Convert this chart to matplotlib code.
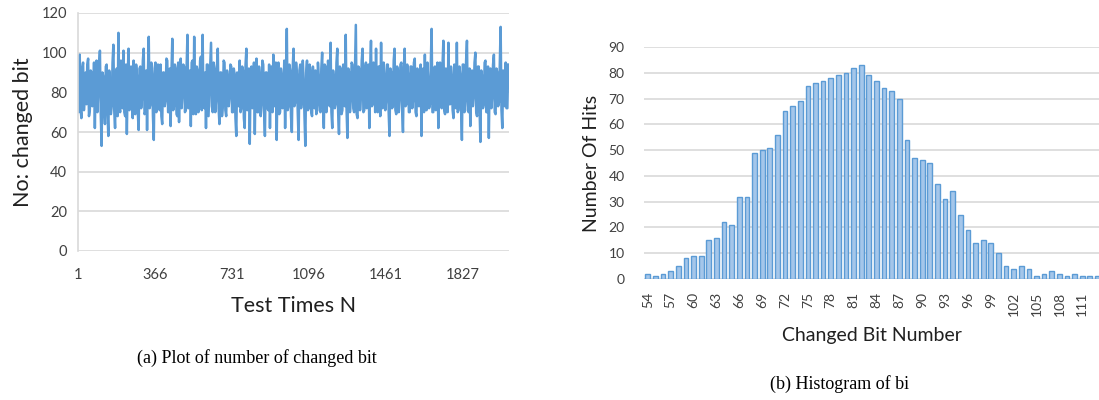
import matplotlib
matplotlib.use('Agg')
import matplotlib.pyplot as plt
import numpy as np

# (a) number of changed bits per test, read off roughly (one value every 4 tests)
changed_bits = [
    93, 70, 99, 72, 67, 92, 95, 71, 78, 90, 74, 94, 97, 68, 71, 91, 90, 73, 76, 95, 62, 89, 96, 70, 80, 93, 101, 69, 53, 90, 88, 72,
    64, 93, 94, 70, 58, 91, 86, 69, 73, 95, 104, 71, 62, 90, 92, 68, 110, 74, 70, 96, 84, 72, 101, 70, 68, 94, 59, 88, 102, 71, 75, 93,
    91, 67, 96, 73, 69, 94, 88, 70, 61, 92, 93, 72, 77, 96, 102, 69, 70, 91, 61, 89, 108, 72, 74, 95, 89, 68, 56, 92, 95, 70, 72, 94,
    85, 71, 94, 68, 64, 90, 90, 73, 76, 97, 96, 70, 70, 92, 63, 90, 107, 71, 73, 94, 92, 69, 68, 95, 65, 88, 97, 72, 79, 94, 93, 70,
    71, 93, 109, 72, 74, 91, 63, 95, 96, 69, 108, 74, 69, 93, 91, 70, 75, 96, 98, 71, 109, 73, 72, 90, 62, 94, 94, 68, 80, 92, 105, 73,
    70, 95, 92, 70, 76, 93, 102, 72, 64, 90, 90, 68, 73, 96, 95, 71, 68, 91, 87, 73, 78, 94, 93, 70, 70, 92, 89, 67, 58, 90, 84, 73,
    96, 70, 72, 93, 91, 67, 62, 94, 102, 71, 75, 92, 54, 89, 93, 72, 79, 95, 59, 91, 97, 70, 70, 93, 88, 68, 74, 96, 94, 71, 58, 90,
    90, 72, 71, 94, 62, 91, 93, 70, 99, 73, 76, 95, 56, 90, 95, 69, 70, 92, 88, 72, 78, 96, 62, 90, 112, 71, 73, 94, 91, 68, 60, 92,
    102, 73, 75, 95, 89, 70, 56, 91, 94, 72, 77, 96, 86, 68, 53, 90, 96, 71, 72, 94, 90, 70, 68, 93, 84, 72, 91, 69, 74, 95, 88, 71,
    70, 92, 100, 72, 62, 94, 93, 70, 77, 96, 89, 73, 105, 70, 62, 91, 86, 72, 74, 95, 102, 70, 59, 93, 92, 69, 71, 94, 88, 73, 109, 71,
    57, 92, 90, 70, 76, 95, 94, 72, 70, 92, 114, 69, 67, 93, 92, 71, 78, 96, 102, 70, 71, 92, 95, 72, 80, 94, 62, 91, 106, 73, 74, 95,
    89, 70, 102, 72, 70, 93, 93, 68, 105, 73, 72, 95, 88, 71, 76, 94, 94, 70, 58, 92, 90, 72, 73, 96, 102, 71, 69, 93, 91, 70, 77, 94,
    95, 71, 60, 92, 102, 73, 74, 94, 89, 70, 70, 93, 93, 72, 76, 95, 97, 70, 68, 92, 90, 73, 75, 94, 58, 91, 92, 70, 99, 73, 71, 95,
    86, 72, 74, 94, 112, 70, 70, 92, 93, 71, 78, 95, 62, 90, 95, 73, 72, 94, 106, 71, 69, 92, 90, 70, 105, 74, 74, 93, 88, 71, 67, 94,
    92, 72, 105, 70, 71, 93, 89, 72, 56, 94, 94, 70, 76, 96, 106, 71, 70, 92, 63, 90, 91, 73, 78, 95, 100, 70, 68, 93, 93, 71, 55, 91,
    88, 72, 74, 95, 96, 70, 70, 93, 57, 91, 92, 72, 78, 94, 99, 70, 69, 92, 90, 73, 75, 95, 113, 71, 62, 91, 88, 73, 95, 72, 72, 94,
]
test_step = 4
x_ticks = [1, 366, 731, 1096, 1461, 1827]

# (b) histogram of changed bit number
bit_numbers = list(range(54, 114))
hits = [2, 1, 2, 3, 5, 8, 9, 9, 15, 16, 22, 21, 32, 32, 49, 50, 51, 56, 65, 67,
        69, 75, 76, 77, 78, 79, 80, 82, 83, 79, 77, 74, 73, 70, 54, 47, 46, 45, 37, 31,
        34, 25, 19, 14, 15, 14, 10, 5, 4, 5, 4, 1, 2, 3, 2, 1, 2, 1, 1, 1]

plt.rcParams['font.family'] = ['Lato', 'DejaVu Sans']
grid_c = '#d9d9d9'
txt_c = '#404040'

fig = plt.figure(figsize=(10.99, 4.0), dpi=100)

# ---- left: line plot
ax1 = fig.add_axes([0.071, 0.3725, 0.392, 0.595])
xs = 1 + test_step * np.arange(len(changed_bits))
ax1.plot(xs, changed_bits, color='#5b9bd5', lw=1.8)
ax1.set_xlim(1, 2048)
ax1.set_ylim(0, 120)
ax1.set_yticks(range(0, 121, 20))
ax1.set_xticks(x_ticks)
ax1.set_xticklabels([str(t) for t in x_ticks])
ax1.grid(axis='y', color=grid_c, lw=1.2)
ax1.set_axisbelow(True)
for s in ['top', 'right', 'bottom']:
    ax1.spines[s].set_visible(False)
ax1.spines['left'].set_color(grid_c)
ax1.spines['left'].set_linewidth(1.2)
ax1.tick_params(length=0, labelsize=10.5, colors=txt_c)
ax1.tick_params(axis='x', pad=12)
ax1.tick_params(axis='y', pad=8)
ax1.set_ylabel('No: changed bit', fontsize=15.5, color='#202020', labelpad=6)
ax1.set_xlabel('Test Times N', fontsize=15.5, color='#202020', labelpad=10)

fig.text(0.234, 0.105, '(a) Plot of number of changed bit', ha='center', va='center',
         fontsize=13, family='Liberation Serif')

# ---- right: histogram
ax2 = fig.add_axes([0.586, 0.3025, 0.414, 0.58])
pos = np.arange(len(bit_numbers))
ax2.bar(pos, hits, width=0.62, color='#a4c6ea', edgecolor='#5b9bd5', lw=1.0)
ax2.set_xlim(-0.5, 59.2)
ax2.set_ylim(0, 90)
ax2.set_yticks(range(0, 91, 10))
ax2.set_xticks(pos[::3])
ax2.set_xticklabels([str(b) for b in bit_numbers[::3]], rotation=90, va='top', ha='center')
ax2.grid(axis='y', color=grid_c, lw=1.2)
ax2.set_axisbelow(True)
for s in ax2.spines.values():
    s.set_visible(False)
ax2.tick_params(length=0, labelsize=10, colors=txt_c)
ax2.tick_params(axis='x', pad=9)
ax2.tick_params(axis='y', pad=14)
ax2.set_ylabel('Number Of Hits', fontsize=14, color='#202020', labelpad=6)
ax2.set_xlabel('Changed Bit Number', fontsize=14, color='#202020', labelpad=8)

fig.text(0.764, 0.04, '(b) Histogram of bi', ha='center', va='center',
         fontsize=13, family='Liberation Serif')

fig.savefig('out.png', dpi=100)
